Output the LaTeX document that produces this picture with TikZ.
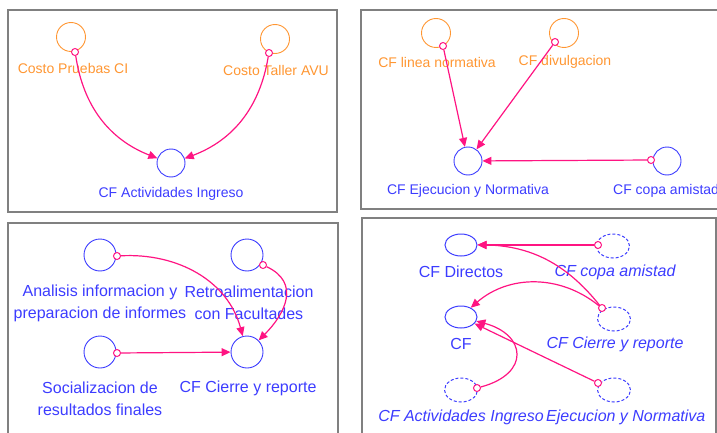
\documentclass[tikz,border=0pt]{standalone}
\usepackage{fontspec}
\setmainfont{Liberation Sans}
\usetikzlibrary{arrows.meta,positioning,shapes.geometric}
\definecolor{vorange}{RGB}{255,150,50}
\definecolor{vblue}{RGB}{60,60,255}
\definecolor{vpink}{RGB}{255,20,130}
\definecolor{vgray}{RGB}{128,128,128}

\begin{document}
\begin{tikzpicture}[x=1pt, y=1pt, >={Triangle[length=9pt,width=8pt]},
    panel/.style={draw=vgray, line width=1.8pt},
    aux/.style={circle, draw=vorange, line width=0.9pt, minimum size=29pt, inner sep=0pt},
    lvl/.style={circle, draw=vblue, line width=0.9pt, minimum size=28pt, inner sep=0pt},
    big/.style={circle, draw=vblue, line width=0.9pt, minimum size=32pt, inner sep=0pt},
    var/.style={ellipse, draw=vblue, line width=1pt, minimum width=32pt, minimum height=22pt, inner sep=0pt},
    ghost/.style={ellipse, draw=vblue, line width=1pt, dash pattern=on 3pt off 2pt, minimum width=33pt, minimum height=24pt, inner sep=0pt},
    tail/.style={circle, draw=vpink, fill=white, line width=1pt, minimum size=7pt, inner sep=0pt},
    link/.style={->, draw=vpink, line width=1.2pt},
    otxt/.style={text=vorange, inner sep=0pt, font=\fontsize{14}{16}\selectfont},
    btxt/.style={text=vblue, inner sep=0pt, font=\fontsize{14}{16}\selectfont},
    ltxt/.style={text=vblue, inner sep=0pt, align=center, font=\fontsize{16}{22}\selectfont},
    gtxt/.style={text=vblue, inner sep=0pt, font=\fontsize{16}{18}\selectfont\itshape}]
  \useasboundingbox (0,0) rectangle (717,432);

  % panel 1
  \draw[panel] (8,220) rectangle (337,422);
  \node[aux] (cpci)  at (71,395)  {};
  \node[aux] (ctavu) at (275,393) {};
  \node[lvl] (cfai)  at (171,269) {};
  \node[otxt] (lcpci)  at (73,364)  {Costo Pruebas CI};
  \node[otxt] (lctavu) at (276,362) {Costo Taller AVU};
  \node[btxt] (lcfai)  at (171,238) {CF Actividades Ingreso};
  \node[tail] (tpci)  at (75,380)  {};
  \node[tail] (ttavu) at (269,379) {};
  \path (tpci)  edge[link, bend right=30] (cfai)
        (ttavu) edge[link, bend left=30]  (cfai);

  % panel 2
  \draw[panel] (361,223) rectangle (722,422);
  \node[aux] (cfln)  at (436,399) {};
  \node[aux] (cfdiv) at (564,399) {};
  \node[lvl] (cfen)  at (468,271) {};
  \node[lvl] (cfca)  at (667,271) {};
  \node[otxt] (lcfln)  at (437,370) {CF linea normativa};
  \node[otxt] (lcfdiv) at (565,370) {CF divulgacion};
  \node[btxt] (lcfen)  at (468,241) {CF Ejecucion y Normativa};
  \node[btxt, anchor=west] (lcfca) at (613,241) {CF copa amistad};
  \node[tail] (tln)  at (443,386) {};
  \node[tail] (tdiv) at (555,390) {};
  \node[tail] (tca)  at (651,272) {};
  \path (tln)  edge[link] (cfen)
        (tdiv) edge[link] (cfen)
        (tca)  edge[link] (cfen);

  % panel 3
  \draw[panel] (8,-10) rectangle (338,209);
  \node[big] (anal)  at (100,177) {};
  \node[big] (retro) at (247,177) {};
  \node[big] (soc)   at (100,80)  {};
  \node[big] (cier)  at (247,80)  {};
  \node[ltxt] (lanal)  at (100,129) {Analisis informacion y\\preparacion de informes};
  \node[ltxt] (lretro) at (249,129) {Retroalimentacion\\con Facultades};
  \node[ltxt] (lsoc)   at (100,33)  {Socializacion de\\resultados finales};
  \node[ltxt] (lcier)  at (248,44)  {CF Cierre y reporte};
  \node[tail] (tan) at (117,176) {};
  \node[tail] (tre) at (263,167) {};
  \node[tail] (tso) at (117,79)  {};
  \path (tan) edge[link, out=3, in=105]  (cier)
        (tre) edge[link, out=-25, in=45, looseness=1.3] (cier)
        (tso) edge[link] (cier);

  % panel 4
  \draw[panel] (362,-10) rectangle (716,214);
  \node[var]   (cfdir)  at (461,187) {};
  \node[ghost] (copa)   at (613,186) {};
  \node[var]   (cf)     at (461,115) {};
  \node[ghost] (cierre) at (614,113) {};
  \node[ghost] (activ)  at (461,42)  {};
  \node[ghost] (ejec)   at (614,42)  {};
  \node[ltxt] (lcfdir)  at (461,160) {CF Directos};
  \node[gtxt] (lcopa)   at (615,160) {CF copa amistad};
  \node[ltxt] (lcf)     at (461,88)  {CF};
  \node[gtxt] (lcierre) at (615,88)  {CF Cierre y reporte};
  \node[gtxt] (lactiv)  at (461,15)  {CF Actividades Ingreso};
  \node[gtxt, anchor=west] (lejec) at (546,15) {Ejecucion y Normativa};
  \node[tail] (tcopa) at (598,187) {};
  \node[tail] (tcier) at (602,124) {};
  \node[tail] (tact)  at (477,44)  {};
  \node[tail] (tejec) at (598,49)  {};
  \path (tcopa) edge[link] (cfdir)
        (tcier) edge[link, bend right=25] (cfdir)
        (tcier) edge[link, bend right=40] (cf)
        (tact)  edge[link, out=15, in=-15, looseness=2] (cf)
        (tejec) edge[link] (cf);
\end{tikzpicture}
\end{document}
